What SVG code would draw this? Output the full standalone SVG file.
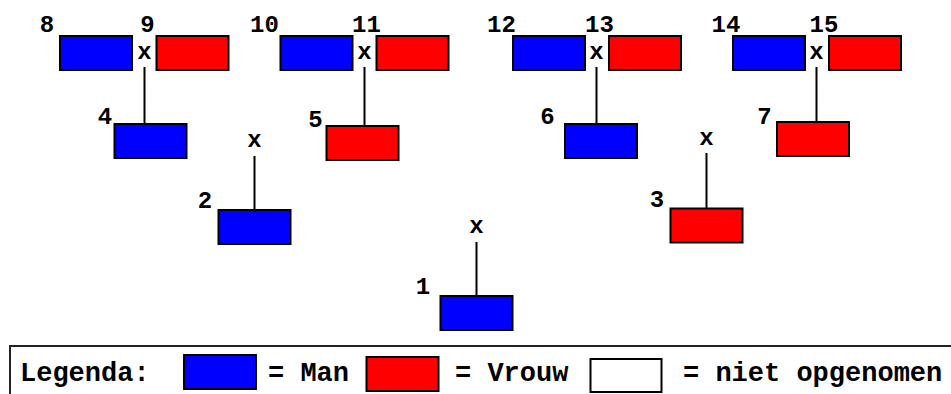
<svg xmlns="http://www.w3.org/2000/svg" width="951" height="394" viewBox="0 0 951 394">
<style>
.m{fill:#0000ff;stroke:#000;stroke-width:2}
.f{fill:#ff0000;stroke:#000;stroke-width:2}
.n{fill:#fff;stroke:#000;stroke-width:2}
.t{font-family:"Liberation Mono","DejaVu Sans Mono",monospace;font-weight:bold;font-size:24px;fill:#000;text-anchor:middle}
.l{font-family:"Liberation Mono","DejaVu Sans Mono",monospace;font-weight:bold;font-size:27px;fill:#000}
.c{stroke:#000;stroke-width:2;fill:none}
</style>
<rect width="951" height="394" fill="#fff"/>
<g id="connectors">
<line class="c" x1="144.5" y1="67" x2="144.5" y2="124"/>
<line class="c" x1="364.5" y1="67" x2="364.5" y2="126"/>
<line class="c" x1="596.5" y1="67" x2="596.5" y2="124"/>
<line class="c" x1="816.5" y1="67" x2="816.5" y2="122"/>
<line class="c" x1="254.5" y1="156" x2="254.5" y2="210"/>
<line class="c" x1="706.5" y1="153" x2="706.5" y2="208"/>
<line class="c" x1="476.5" y1="242" x2="476.5" y2="296"/>
<text class="t" x="144.5" y="59">x</text>
<text class="t" x="364.5" y="59">x</text>
<text class="t" x="596.5" y="59">x</text>
<text class="t" x="816.5" y="59">x</text>
<text class="t" x="254.5" y="147">x</text>
<text class="t" x="706.5" y="145">x</text>
<text class="t" x="476.5" y="233">x</text>
</g>
<g id="n8"><rect class="m" x="60" y="36" width="72" height="34"/><text class="t" x="47" y="32">8</text></g>
<g id="n9"><rect class="f" x="156.5" y="36" width="72" height="34"/><text class="t" x="147.5" y="32">9</text></g>
<g id="n10"><rect class="m" x="280.5" y="36" width="72" height="34"/><text class="t" x="264.5" y="32">10</text></g>
<g id="n11"><rect class="f" x="376.5" y="36" width="72" height="34"/><text class="t" x="366.5" y="32">11</text></g>
<g id="n12"><rect class="m" x="513" y="36" width="72" height="34"/><text class="t" x="501.5" y="32">12</text></g>
<g id="n13"><rect class="f" x="609" y="36" width="72" height="34"/><text class="t" x="599.5" y="32">13</text></g>
<g id="n14"><rect class="m" x="733" y="36" width="72" height="34"/><text class="t" x="726" y="32">14</text></g>
<g id="n15"><rect class="f" x="829" y="36" width="72" height="34"/><text class="t" x="824" y="32">15</text></g>
<g id="n4"><rect class="m" x="114.5" y="124" width="72" height="34"/><text class="t" x="105" y="124">4</text></g>
<g id="n5"><rect class="f" x="326.5" y="126" width="72" height="34"/><text class="t" x="315.5" y="126.5">5</text></g>
<g id="n6"><rect class="m" x="565" y="124" width="72" height="34"/><text class="t" x="547.5" y="124">6</text></g>
<g id="n7"><rect class="f" x="777" y="122" width="72" height="34"/><text class="t" x="764.5" y="124">7</text></g>
<g id="n2"><rect class="m" x="218.5" y="210" width="72" height="34"/><text class="t" x="205" y="207.5">2</text></g>
<g id="n3"><rect class="f" x="670.5" y="208.5" width="72" height="34"/><text class="t" x="657" y="207">3</text></g>
<g id="n1"><rect class="m" x="440.5" y="296" width="72" height="34"/><text class="t" x="423" y="294">1</text></g>
<g id="legend">
<rect x="10" y="346" width="960" height="60" fill="#fff" stroke="#222" stroke-width="2"/>
<text class="l" x="20" y="381">Legenda:</text>
<rect class="m" x="184" y="355" width="72" height="34"/>
<text class="l" x="268" y="381">= Man</text>
<rect class="f" x="366.5" y="357" width="72" height="34"/>
<text class="l" x="455" y="381">= Vrouw</text>
<rect class="n" x="590.5" y="359" width="71" height="33"/>
<text class="l" x="683" y="381">= niet opgenomen</text>
</g>
</svg>
